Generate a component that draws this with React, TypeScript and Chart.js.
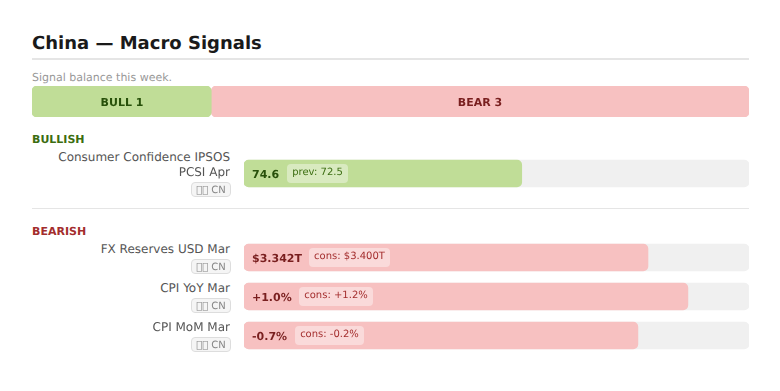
import React, { useEffect, useRef } from "react";
import { Chart, registerables } from "chart.js";

Chart.register(...registerables);

const balanceLabels = ["BULL", "BEAR"];
const balanceCounts = [1, 3];

const bullCategories = [["Consumer Confidence IPSOS", "PCSI Apr"]];
const bullFill = [55];
const bullValues = ["74.6"];
const bullNotes = ["prev: 72.5"];

const bearCategories = [["FX Reserves USD Mar"], ["CPI YoY Mar"], ["CPI MoM Mar"]];
const bearFill = [80, 87.9, 78];
const bearValues = ["$3.342T", "+1.0%", "-0.7%"];
const bearNotes = ["cons: $3.400T", "cons: +1.2%", "cons: -0.2%"];

const GREEN = "#c0dd97";
const RED = "#f7c1c1";
const TRACK = "#f0f0f0";
const FONT = '"DejaVu Sans", sans-serif';
const CORNER = { topLeft: 5, topRight: 5, bottomLeft: 5, bottomRight: 5 };

function abs(left: number, top: number, extra: React.CSSProperties = {}): React.CSSProperties {
  return { position: "absolute", left, top, whiteSpace: "nowrap", ...extra };
}

function BalanceChart() {
  const ref = useRef<HTMLCanvasElement>(null);
  useEffect(() => {
    const chart = new Chart(ref.current!, {
      type: "bar",
      data: {
        labels: ["balance"],
        datasets: balanceLabels.map((label, i) => ({
          label,
          data: [balanceCounts[i]],
          backgroundColor: i === 0 ? GREEN : RED,
          borderRadius: CORNER,
          borderSkipped: false,
          barThickness: 31,
        })) as any,
      },
      options: {
        indexAxis: "y",
        animation: false,
        responsive: false,
        layout: { padding: 0 },
        plugins: { legend: { display: false }, tooltip: { enabled: false } },
        scales: {
          x: { display: false, stacked: true, min: 0, max: 4 },
          y: { display: false, stacked: true },
        },
      },
    });
    return () => chart.destroy();
  }, []);
  return <canvas ref={ref} width={717} height={31} style={abs(32, 86, { display: "block" })} />;
}

function RowChart(props: { labels: string[][]; fill: number[]; color: string; top: number; height: number }) {
  const ref = useRef<HTMLCanvasElement>(null);
  useEffect(() => {
    const chart = new Chart(ref.current!, {
      type: "bar",
      data: {
        labels: props.labels as any,
        datasets: [
          {
            label: "value",
            data: props.fill,
            backgroundColor: props.color,
            borderRadius: 5,
            borderSkipped: false,
            barThickness: 27,
            grouped: false,
            order: 0,
          },
          {
            label: "track",
            data: props.fill.map(() => 100),
            backgroundColor: TRACK,
            borderRadius: 5,
            borderSkipped: false,
            barThickness: 27,
            grouped: false,
            order: 1,
          },
        ] as any,
      },
      options: {
        indexAxis: "y",
        animation: false,
        responsive: false,
        layout: { padding: 0 },
        plugins: { legend: { display: false }, tooltip: { enabled: false } },
        scales: {
          x: { display: false, min: 0, max: 100 },
          y: { display: false },
        },
      },
    });
    return () => chart.destroy();
  }, []);
  return (
    <canvas
      ref={ref}
      width={505}
      height={props.height}
      style={abs(244, props.top, { display: "block" })}
    />
  );
}

function Badge({ top }: { top: number }) {
  return (
    <div
      style={abs(191, top, {
        width: 40,
        height: 15,
        boxSizing: "border-box",
        border: "1px solid #dddddd",
        borderRadius: 4,
        background: "#f5f5f5",
        color: "#888888",
        fontSize: 10,
        lineHeight: "15px",
        textAlign: "center",
      })}
    >
      {"\uE000\uE001"} CN
    </div>
  );
}

function Row(props: {
  lines: string[];
  center: number;
  value: string;
  note: string;
  noteLeft: number;
  noteWidth: number;
  dark: string;
  mid: string;
  pill: string;
}) {
  const barTop = props.center - 13.5;
  const labelTop = props.center - 15.5 - (props.lines.length - 1) * 8;
  return (
    <>
      {props.lines.map((line, i) => (
        <div
          key={line}
          style={abs(0, labelTop + i * 15, {
            width: 230,
            textAlign: "right",
            fontSize: 12,
            lineHeight: "15px",
            color: "#555555",
          })}
        >
          {line}
        </div>
      ))}
      <Badge top={labelTop + props.lines.length * 15 + 2} />
      <div
        style={abs(252, barTop + 7, {
          fontSize: 11,
          fontWeight: 700,
          lineHeight: "15px",
          color: props.dark,
        })}
      >
        {props.value}
      </div>
      <div
        style={abs(props.noteLeft, barTop + 4, {
          width: props.noteWidth,
          height: 19,
          borderRadius: 4,
          background: props.pill,
          color: props.mid,
          fontSize: 10,
          lineHeight: "17px",
          textAlign: "center",
        })}
      >
        {props.note}
      </div>
    </>
  );
}

export default function App() {
  const noteLefts = [309, 299, 295];
  const noteWidths = [81, 74, 69];
  const centers = [257.5, 296.5, 335.5];
  return (
    <div
      style={{
        position: "absolute",
        left: 0,
        top: 0,
        width: 780,
        height: 391,
        overflow: "hidden",
        background: "#ffffff",
        fontFamily: FONT,
        textRendering: "geometricPrecision",
      }}
    >
      <div style={abs(32, 33, { fontSize: 18, fontWeight: 700, lineHeight: "22px", color: "#1a1a1a" })}>
        China — Macro Signals
      </div>
      <div style={abs(32, 58, { width: 717, height: 2, background: "#e5e5e5" })} />
      <div style={abs(32, 70, { fontSize: 11, lineHeight: "15px", color: "#999999" })}>
        Signal balance this week.
      </div>

      <BalanceChart />
      <div
        style={abs(32, 96, {
          width: 180,
          textAlign: "center",
          fontSize: 11,
          fontWeight: 700,
          lineHeight: "13px",
          color: "#27500a",
        })}
      >
        {balanceLabels[0]} {balanceCounts[0]}
      </div>
      <div
        style={abs(212, 96, {
          width: 536,
          textAlign: "center",
          fontSize: 11,
          fontWeight: 700,
          lineHeight: "13px",
          color: "#791f1f",
        })}
      >
        {balanceLabels[1]} {balanceCounts[1]}
      </div>

      <div style={abs(32, 133, { fontSize: 11, fontWeight: 700, lineHeight: "13px", color: "#3b6d11" })}>
        BULLISH
      </div>
      <RowChart labels={bullCategories} fill={bullFill} color={GREEN} top={154} height={39} />
      <Row
        lines={bullCategories[0]}
        center={173.5}
        value={bullValues[0]}
        note={bullNotes[0]}
        noteLeft={287}
        noteWidth={61}
        dark="#27500a"
        mid="#3b6d11"
        pill="rgba(255,255,255,0.4)"
      />

      <div style={abs(32, 208, { width: 717, height: 1, background: "#e5e5e5" })} />

      <div style={abs(32, 225, { fontSize: 11, fontWeight: 700, lineHeight: "13px", color: "#a32d2d" })}>
        BEARISH
      </div>
      <RowChart labels={bearCategories} fill={bearFill} color={RED} top={238} height={117} />
      {bearCategories.map((lines, i) => (
        <Row
          key={lines[0]}
          lines={lines}
          center={centers[i]}
          value={bearValues[i]}
          note={bearNotes[i]}
          noteLeft={noteLefts[i]}
          noteWidth={noteWidths[i]}
          dark="#791f1f"
          mid="#a32d2d"
          pill="rgba(255,255,255,0.4)"
        />
      ))}
    </div>
  );
}
